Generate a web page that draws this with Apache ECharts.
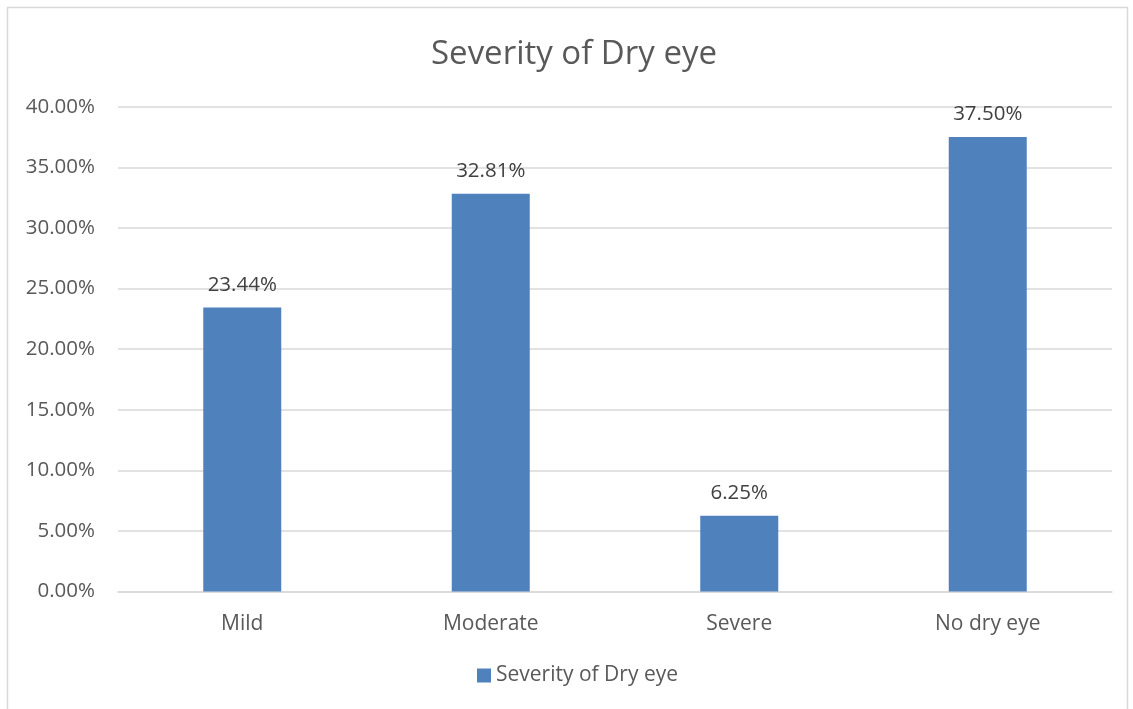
<!DOCTYPE html>
<html>
<head>
<meta charset="utf-8">
<script src="https://cdn.jsdelivr.net/npm/echarts@6/dist/echarts.min.js"></script>
<style>
html,body{margin:0;padding:0;background:#fff;}
#c{width:1133px;height:709px;}
</style>
</head>
<body>
<div id="c"></div>
<script>
const categories = ['Mild', 'Moderate', 'Severe', 'No dry eye'];
const values = [23.44, 32.81, 6.25, 37.50];
const seriesName = 'Severity of Dry eye';
const titleText = 'Severity of Dry eye';

const FONT = '"Open Sans", sans-serif';
const TXT = '#595959';

const chart = echarts.init(document.getElementById('c'), null, {renderer: 'canvas'});
chart.setOption({
  animation: false,
  backgroundColor: '#fff',
  title: {
    text: titleText,
    left: 426,
    top: 33,
    textStyle: {fontFamily: FONT, fontSize: 33, fontWeight: 'normal', color: TXT}
  },
  graphic: [{
    type: 'rect',
    shape: {x: 7.5, y: 7.5, width: 1120, height: 740},
    style: {fill: 'none', stroke: '#d9d9d9', lineWidth: 1.5},
    silent: true
  }],
  legend: {
    bottom: 18,
    left: 472,
    itemWidth: 14,
    itemHeight: 14,
    itemGap: 10,
    icon: 'rect',
    textStyle: {fontFamily: FONT, fontSize: 21, color: TXT},
    data: [seriesName]
  },
  grid: {left: 118, right: 21, top: 106.7, bottom: 117.5, containLabel: false},
  xAxis: {
    type: 'category',
    data: categories,
    axisLine: {show: true, lineStyle: {color: '#d9d9d9', width: 1.5}},
    axisTick: {show: false},
    axisLabel: {fontFamily: FONT, fontSize: 21, color: TXT, margin: 22}
  },
  yAxis: {
    type: 'value',
    min: 0,
    max: 40,
    interval: 5,
    axisLine: {show: false},
    axisTick: {show: false},
    splitLine: {lineStyle: {color: '#d9d9d9', width: 1.5}},
    axisLabel: {
      fontFamily: FONT, fontSize: 20.5, color: TXT, margin: 23,
      formatter: v => v.toFixed(2) + '%'
    }
  },
  series: [{
    name: seriesName,
    type: 'bar',
    data: values,
    barWidth: 78,
    itemStyle: {color: '#4f81bd'},
    label: {
      show: true,
      position: 'top',
      distance: 12,
      fontFamily: FONT, fontSize: 20.5, color: '#404040',
      formatter: p => p.value.toFixed(2) + '%'
    }
  }]
});
</script>
</body>
</html>
